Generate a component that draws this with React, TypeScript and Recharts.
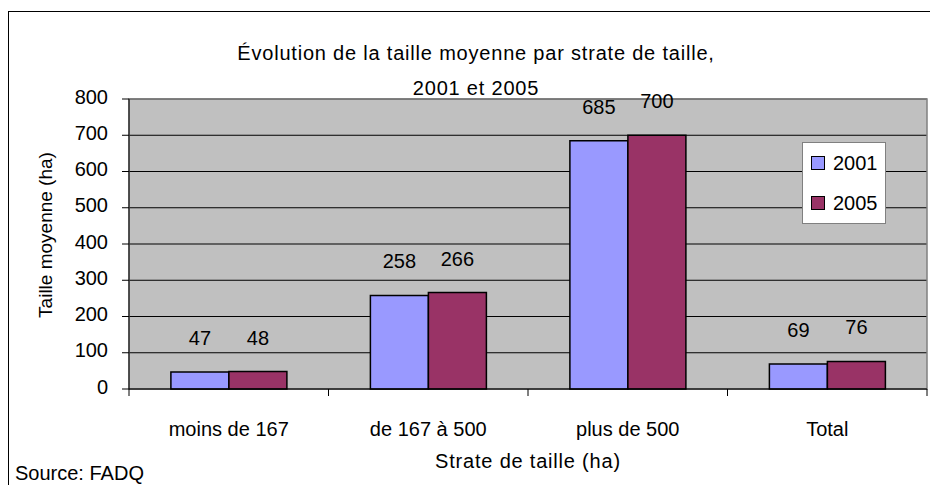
import React from 'react';
import { BarChart, Bar, XAxis, YAxis, CartesianGrid, LabelList, Legend, Label, ReferenceArea } from 'recharts';

const categories = ['moins de 167', 'de 167 à 500', 'plus de 500', 'Total'];
const values2001 = [47, 258, 685, 69];
const values2005 = [48, 266, 700, 76];
const yTicks = [0, 100, 200, 300, 400, 500, 600, 700, 800];
const seriesNames = ['2001', '2005'];
const seriesColors = ['#9999FF', '#993366'];
const titleLines = ['Évolution de la taille moyenne par strate de taille,', '2001 et 2005'];
const xTitle = 'Strate de taille (ha)';
const yTitle = 'Taille moyenne (ha)';
const sourceText = 'Source: FADQ';

const data = categories.map((c, i) => ({ category: c, s2001: values2001[i], s2005: values2005[i] }));

const W = 930;
const H = 485;
const MARGIN = { top: 99, right: 3, left: 0, bottom: 0 };
const Y_AXIS_W = 129;
const X_AXIS_H = 96;
const PLOT_W = W - MARGIN.left - MARGIN.right - Y_AXIS_W;
const FONT = "'Liberation Sans', Arial, sans-serif";

const XTick = (props: any) => {
  const { x, y, payload, index } = props;
  const band = PLOT_W / categories.length;
  return (
    <g>
      <line x1={x - band / 2} x2={x - band / 2} y1={y} y2={y + 7} stroke="#000" />
      {index === categories.length - 1 && (
        <line x1={x + band / 2} x2={x + band / 2} y1={y} y2={y + 7} stroke="#000" />
      )}
      <text x={x} y={y + 47} textAnchor="middle" fontSize={20} fill="#000" fontFamily={FONT}>
        {payload.value}
      </text>
    </g>
  );
};

const YTick = (props: any) => {
  const { x, y, payload } = props;
  return (
    <text x={x} y={y - 2.5} dy="0.355em" textAnchor="end" fontSize={20} fill="#000" fontFamily={FONT}>
      {payload.value}
    </text>
  );
};

const LegendBox = () => (
  <div
    style={{
      width: 84,
      height: 82,
      boxSizing: 'border-box',
      background: '#fff',
      border: '1px solid #808080',
      position: 'relative',
      fontFamily: FONT,
      fontSize: 20,
      color: '#000',
    }}
  >
    {seriesNames.map((n, i) => (
      <div key={n} style={{ position: 'absolute', left: 8, top: 8 + i * 40, height: 24, display: 'flex', alignItems: 'center' }}>
        <div style={{ width: 14, height: 14, boxSizing: 'border-box', background: seriesColors[i], border: '1.5px solid #000' }} />
        <span style={{ marginLeft: 8, lineHeight: '24px' }}>{n}</span>
      </div>
    ))}
  </div>
);

export default function App() {
  return (
    <div style={{ position: 'fixed', left: 0, top: 0, width: W, height: H, overflow: 'hidden', background: '#fff' }}>
      <div style={{ position: 'absolute', left: 8, top: 11, width: 1000, height: 1000, border: '1px solid #000' }} />
      <div
        style={{
          position: 'absolute',
          left: 0,
          width: 952,
          top: 36,
          textAlign: 'center',
          fontFamily: FONT,
          fontSize: 20,
          lineHeight: '35px',
          letterSpacing: 0.8,
          color: '#000',
        }}
      >
        {titleLines.map((t) => (
          <div key={t}>{t}</div>
        ))}
      </div>
      <div style={{ position: 'absolute', left: 15, top: 463, fontFamily: FONT, fontSize: 20, lineHeight: '20px', color: '#000' }}>
        {sourceText}
      </div>
      <div style={{ position: 'absolute', left: 0, top: 0 }}>
        <BarChart width={W} height={H} data={data} margin={MARGIN} barCategoryGap="21%" barGap={0}>
          <CartesianGrid vertical={false} stroke="#000" fill="#C0C0C0" fillOpacity={1} />
          <ReferenceArea y1={0} y2={800} fill="none" stroke="#808080" strokeWidth={1.5} />
          <XAxis
            dataKey="category"
            height={X_AXIS_H}
            tickSize={0}
            tickMargin={0}
            tickLine={false}
            axisLine={{ stroke: '#000' }}
            tick={<XTick />}
            interval={0}
          >
            <Label
              value={xTitle}
              position="insideBottom"
              offset={17}
              fontSize={20}
              fill="#000"
              fontFamily={FONT}
              style={{ letterSpacing: 0.8 }}
            />
          </XAxis>
          <YAxis
            width={Y_AXIS_W}
            domain={[0, 800]}
            ticks={yTicks}
            tickSize={7}
            tickMargin={14}
            tickLine={{ stroke: '#000' }}
            axisLine={{ stroke: '#000' }}
            tick={<YTick />}
            interval={0}
          >
            <Label
              content={() => (
                <text
                  transform="translate(45,235) rotate(-90)"
                  textAnchor="middle"
                  dy="0.355em"
                  fontSize={19}
                  fill="#000"
                  fontFamily={FONT}
                >
                  {yTitle}
                </text>
              )}
            />
          </YAxis>
          <Legend
            layout="vertical"
            align="center"
            verticalAlign="middle"
            content={() => <LegendBox />}
            wrapperStyle={{ left: 802, top: 142, width: 84, height: 82 }}
          />
          <Bar dataKey="s2001" name={seriesNames[0]} fill={seriesColors[0]} stroke="#000" strokeWidth={1.5} isAnimationActive={false}>
            <LabelList dataKey="s2001" position="top" offset={27} fill="#000" fontSize={20} fontFamily={FONT} />
          </Bar>
          <Bar dataKey="s2005" name={seriesNames[1]} fill={seriesColors[1]} stroke="#000" strokeWidth={1.5} isAnimationActive={false}>
            <LabelList dataKey="s2005" position="top" offset={27} fill="#000" fontSize={20} fontFamily={FONT} />
          </Bar>
        </BarChart>
      </div>
    </div>
  );
}
